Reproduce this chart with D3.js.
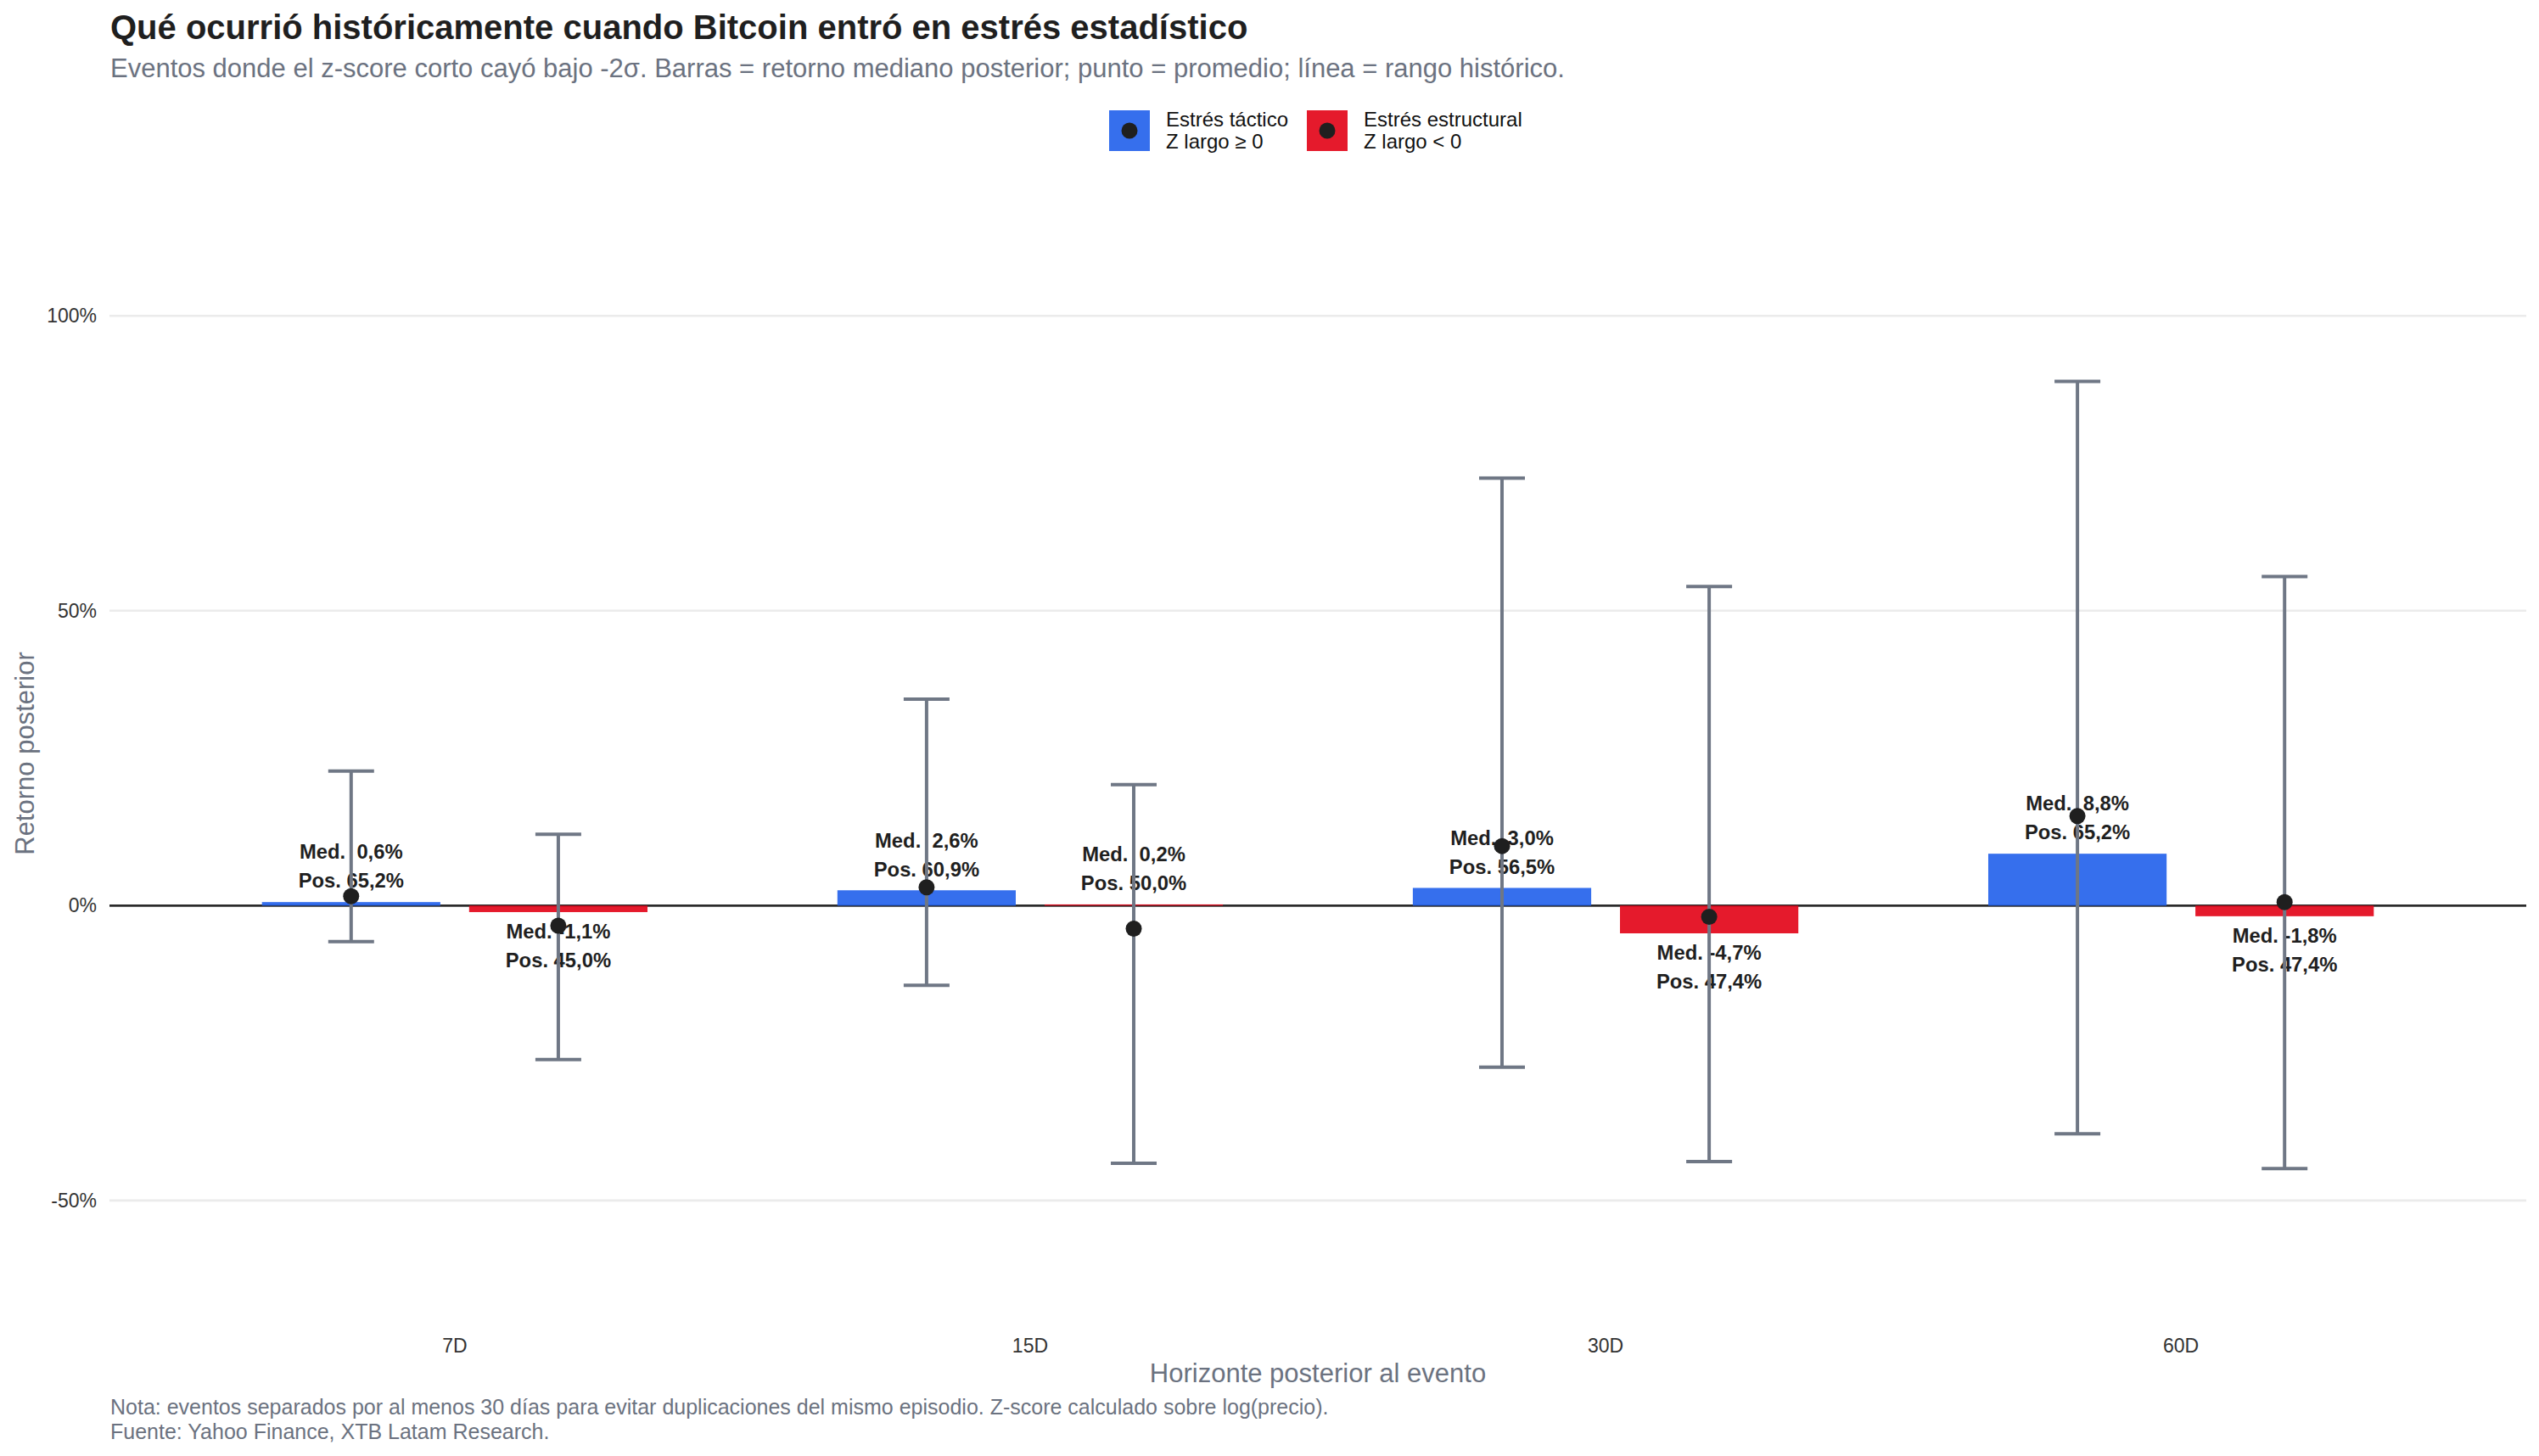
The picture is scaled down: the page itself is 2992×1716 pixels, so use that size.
<!DOCTYPE html>
<html>
<head>
<meta charset="utf-8">
<script src="https://cdn.jsdelivr.net/npm/d3@7"></script>
<style>
  body { margin: 0; background: #fff; }
  svg { display: block; }
  text { font-family: "Liberation Sans", Arial, Helvetica, sans-serif; }
</style>
</head>
<body>
<div id="chart"></div>
<script>
// horizons and the two stress groups
const horizons = ["7D", "15D", "30D", "60D"];
const groups = ["tactico", "estructural"];
const groupNames = ["Estrés táctico", "Estrés estructural"];
const groupSub = ["Z largo ≥ 0", "Z largo < 0"];

// values in %
const tacticoMedian = [0.6, 2.6, 3.0, 8.8];
const tacticoMean = [1.6, 3.1, 10.1, 15.2];
const tacticoMin = [-6.1, -13.5, -27.4, -38.7];
const tacticoMax = [22.8, 35.0, 72.5, 88.9];
const tacticoPos = [65.2, 60.9, 56.5, 65.2];

const estructuralMedian = [-1.1, 0.2, -4.7, -1.8];
const estructuralMean = [-3.4, -3.9, -1.9, 0.6];
const estructuralMin = [-26.1, -43.7, -43.4, -44.6];
const estructuralMax = [12.1, 20.5, 54.1, 55.8];
const estructuralPos = [45.0, 50.0, 47.4, 47.4];

const yTicks = [-50, 0, 50, 100];

const title = "Qué ocurrió históricamente cuando Bitcoin entró en estrés estadístico";
const subtitle = "Eventos donde el z-score corto cayó bajo -2σ. Barras = retorno mediano posterior; punto = promedio; línea = rango histórico.";
const caption = ["Nota: eventos separados por al menos 30 días para evitar duplicaciones del mismo episodio. Z-score calculado sobre log(precio).",
  "Fuente: Yahoo Finance, XTB Latam Research."];

// build rows
var rows = [];
horizons.forEach((h, i) => {
  rows.push({ h: h, g: "tactico", med: tacticoMedian[i], mean: tacticoMean[i], lo: tacticoMin[i], hi: tacticoMax[i], pos: tacticoPos[i] });
  rows.push({ h: h, g: "estructural", med: estructuralMedian[i], mean: estructuralMean[i], lo: estructuralMin[i], hi: estructuralMax[i], pos: estructuralPos[i] });
});

const W = 2992, H = 1716;
const panel = { left: 129, right: 2977, top: 211, bottom: 1565 };
const colors = { tactico: "#2563EB", estructural: "#E3061A" };
const gray = "#6F7785";
const ink = "#1F1F1F";
const muted = "#6B7280";

const es = d3.formatLocale({ decimal: ",", thousands: ".", grouping: [3], currency: ["", "€"], minus: "-" });
const f1 = es.format(".1f");
const f0 = es.format(".0f");

const svg = d3.select("#chart").append("svg")
  .attr("width", W).attr("height", H)
  .attr("viewBox", `0 0 ${W} ${H}`);

// scales
const x = d3.scaleBand().domain(horizons)
  .range([panel.left, panel.right])
  .paddingInner(0).paddingOuter(0.1);
const step = x.step();
const xSub = d3.scaleBand().domain(groups)
  .range([-0.36 * step, 0.36 * step])
  .paddingInner(0.139).paddingOuter(0.0695);
const y = d3.scaleLinear().domain([-71.6, 123.2]).range([panel.bottom, panel.top]);

const cx = d => x(d.h) + step / 2 + xSub(d.g) + xSub.bandwidth() / 2;

// gridlines
svg.append("g").selectAll("line").data(yTicks.filter(t => t !== 0)).join("line")
  .attr("x1", panel.left).attr("x2", panel.right)
  .attr("y1", d => y(d)).attr("y2", d => y(d))
  .attr("stroke", "#EBEBEB").attr("stroke-width", 2.6);

// zero line
svg.append("line")
  .attr("x1", panel.left).attr("x2", panel.right)
  .attr("y1", y(0)).attr("y2", y(0))
  .attr("stroke", "#2B2B2B").attr("stroke-width", 2.6);

// y tick labels
svg.append("g").selectAll("text").data(yTicks).join("text")
  .attr("x", 114).attr("y", d => y(d)).attr("dy", "0.35em")
  .attr("text-anchor", "end")
  .attr("font-size", 23).attr("fill", "#333")
  .text(d => f0(d) + "%");

// x tick labels
svg.append("g").selectAll("text").data(horizons).join("text")
  .attr("x", d => x(d) + step / 2).attr("y", 1586).attr("dy", "0.35em")
  .attr("text-anchor", "middle")
  .attr("font-size", 23).attr("fill", "#333")
  .text(d => d);

// bars (median)
svg.append("g").selectAll("rect").data(rows).join("rect")
  .attr("x", d => x(d.h) + step / 2 + xSub(d.g))
  .attr("width", xSub.bandwidth())
  .attr("y", d => y(Math.max(0, d.med)))
  .attr("height", d => Math.abs(y(d.med) - y(0)))
  .attr("fill", d => colors[d.g])
  .attr("fill-opacity", 0.92);

// labels
const lab = svg.append("g").selectAll("text").data(rows).join("text")
  .attr("text-anchor", "middle")
  .attr("font-size", 23.8).attr("font-weight", "bold").attr("fill", ink)
  .style("white-space", "pre")
  .attr("x", cx);
lab.append("tspan")
  .attr("x", cx)
  .attr("y", d => d.med >= 0 ? y(d.med) - 59 : y(d.med) + 23)
  .attr("dy", "0.35em")
  .text(d => "Med. " + (d.med >= 0 ? " " : "") + f1(d.med) + "%");
lab.append("tspan")
  .attr("x", cx)
  .attr("y", d => d.med >= 0 ? y(d.med) - 25 : y(d.med) + 57)
  .attr("dy", "0.35em")
  .text(d => "Pos. " + f1(d.pos) + "%");

// error bars (range)
const capW = 54;
const eb = svg.append("g").attr("stroke", gray).attr("stroke-width", 4).attr("fill", "none");
eb.selectAll(".v").data(rows).join("line").attr("class", "v")
  .attr("x1", cx).attr("x2", cx)
  .attr("y1", d => y(d.lo)).attr("y2", d => y(d.hi));
eb.selectAll(".t").data(rows).join("line").attr("class", "t")
  .attr("x1", d => cx(d) - capW / 2).attr("x2", d => cx(d) + capW / 2)
  .attr("y1", d => y(d.hi)).attr("y2", d => y(d.hi));
eb.selectAll(".b").data(rows).join("line").attr("class", "b")
  .attr("x1", d => cx(d) - capW / 2).attr("x2", d => cx(d) + capW / 2)
  .attr("y1", d => y(d.lo)).attr("y2", d => y(d.lo));

// mean points
svg.append("g").selectAll("circle").data(rows).join("circle")
  .attr("cx", cx).attr("cy", d => y(d.mean))
  .attr("r", 9.5).attr("fill", ink);

// title, subtitle
svg.append("text").attr("x", 130).attr("y", 46)
  .attr("font-size", 40).attr("font-weight", "bold").attr("fill", ink)
  .text(title);
svg.append("text").attr("x", 130).attr("y", 91)
  .attr("font-size", 31).attr("fill", muted)
  .text(subtitle);

// legend
const legX = [1307, 1540];
const leg = svg.append("g").selectAll("g").data(groups).join("g")
  .attr("transform", (d, i) => `translate(${legX[i]},130)`);
leg.append("rect").attr("width", 48).attr("height", 48)
  .attr("fill", d => colors[d]).attr("fill-opacity", 0.92);
leg.append("circle").attr("cx", 24).attr("cy", 24).attr("r", 9.5).attr("fill", ink);
leg.append("text").attr("x", 67).attr("y", 19)
  .attr("font-size", 24).attr("fill", "#111")
  .text((d, i) => groupNames[i]);
leg.append("text").attr("x", 67).attr("y", 45)
  .attr("font-size", 24).attr("fill", "#111")
  .text((d, i) => groupSub[i]);

// axis titles
svg.append("text")
  .attr("x", (panel.left + panel.right) / 2).attr("y", 1618).attr("dy", "0.35em")
  .attr("text-anchor", "middle").attr("font-size", 31).attr("fill", muted)
  .text("Horizonte posterior al evento");
svg.append("text")
  .attr("transform", `translate(29,${(panel.top + panel.bottom) / 2}) rotate(-90)`)
  .attr("dy", "0.35em")
  .attr("text-anchor", "middle").attr("font-size", 31).attr("fill", muted)
  .text("Retorno posterior");

// caption
svg.append("g").selectAll("text").data(caption).join("text")
  .attr("x", 130).attr("y", (d, i) => 1658 + i * 29).attr("dy", "0.35em")
  .attr("font-size", 25).attr("fill", muted)
  .text(d => d);
</script>
</body>
</html>
